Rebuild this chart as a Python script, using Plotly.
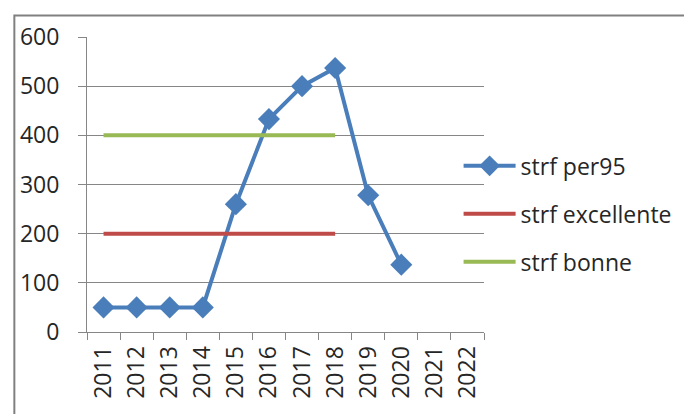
import plotly.graph_objects as go

years = ["2011", "2012", "2013", "2014", "2015", "2016", "2017", "2018", "2019", "2020", "2021", "2022"]
per95 = [50, 50, 50, 50, 260, 433, 500, 537, 278, 137, None, None]
excellente = [200, 200, 200, 200, 200, 200, 200, 200, None, None, None, None]
bonne = [400, 400, 400, 400, 400, 400, 400, 400, None, None, None, None]
yticks = [0, 100, 200, 300, 400, 500, 600]

FONT = "Open Sans"
fig = go.Figure()
fig.add_trace(go.Scatter(x=years, y=per95, name="strf per95", mode="lines+markers",
                         line=dict(color="#4A7EBB", width=4),
                         marker=dict(symbol="diamond", size=17, color="#4A7EBB"),
                         legendgroup="a"))
fig.add_trace(go.Scatter(x=years, y=excellente, name="strf excellente", mode="lines",
                         line=dict(color="#BE4B48", width=4), legendgroup="b"))
fig.add_trace(go.Scatter(x=years, y=bonne, name="strf bonne", mode="lines",
                         line=dict(color="#98B954", width=4), legendgroup="c"))

fig.update_layout(
    width=692, height=414,
    margin=dict(l=72, r=216, t=24, b=90),
    paper_bgcolor="white", plot_bgcolor="white",
    font=dict(family=FONT, size=23, color="#262626"),
    showlegend=True,
    legend=dict(x=0.936, xanchor="left", y=0.636, yanchor="top",
                font=dict(family=FONT, size=23, color="#262626"),
                traceorder="grouped", tracegroupgap=15,
                bgcolor="rgba(0,0,0,0)", itemwidth=52),
    xaxis=dict(type="category", categoryorder="array", categoryarray=years,
               range=[-0.5, 11.5], showgrid=False, showline=True, linecolor="#868686",
               linewidth=1, ticks="outside", tickson="boundaries", ticklen=7,
               tickcolor="#868686", tickangle=-90, zeroline=False,
               ticklabelstandoff=4,
               tickfont=dict(family=FONT, size=23, color="#262626")),
    yaxis=dict(range=[0, 600], tickvals=yticks, showgrid=True, gridcolor="#868686",
               gridwidth=1, showline=True, linecolor="#868686", linewidth=1,
               ticks="outside", ticklen=8, tickcolor="#868686", zeroline=False,
               ticklabelstandoff=14,
               tickfont=dict(family=FONT, size=23, color="#262626")),
    shapes=[dict(type="rect", xref="paper", yref="paper", x0=-0.183, x1=2.0,
                 y0=-1.0, y1=1.0733, line=dict(color="#808080", width=2),
                 fillcolor="rgba(0,0,0,0)", layer="below")],
)
fig.write_html("out.html")
